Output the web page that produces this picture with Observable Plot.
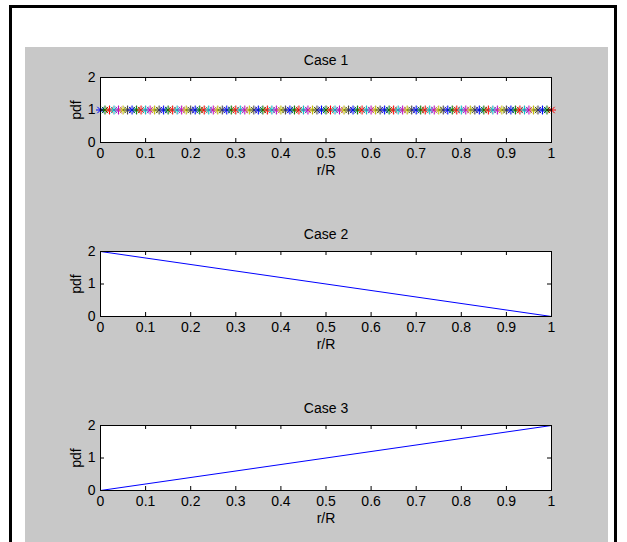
<!DOCTYPE html>
<html>
<head>
<meta charset="utf-8">
<script src="https://cdn.jsdelivr.net/npm/d3@7"></script>
<script src="https://cdn.jsdelivr.net/npm/@observablehq/plot@0.6"></script>
<style>
  html, body { margin: 0; padding: 0; background: #ffffff; }
  #page { position: relative; width: 627px; height: 542px; overflow: hidden; background: #ffffff; }
  #gray { position: absolute; left: 25px; top: 47px; width: 583px; height: 495px; background: #c8c8c8; }
  .bl { position: absolute; background: #000000; }
  .sub { position: absolute; left: 0; }
</style>
</head>
<body>
<div id="page">
  <div class="bl" style="left:9px; top:5px; width:608px; height:3px;"></div>
  <div class="bl" style="left:9px; top:5px; width:3px; height:537px;"></div>
  <div class="bl" style="left:614px; top:5px; width:3px; height:537px;"></div>
  <div id="gray"></div>
</div>
<script>
// ---- data ----
const titles = ["Case 1", "Case 2", "Case 3"];
const xLabel = "r/R";
const yLabel = "pdf";
const xTicks = [0, 0.1, 0.2, 0.3, 0.4, 0.5, 0.6, 0.7, 0.8, 0.9, 1];
const yTicks = [0, 1, 2];

// Case 1: uniform pdf, one '*' marker per sample
const r1 = [0, 0.01, 0.02, 0.03, 0.04, 0.05, 0.06, 0.07, 0.08, 0.09,
  0.10, 0.11, 0.12, 0.13, 0.14, 0.15, 0.16, 0.17, 0.18, 0.19,
  0.20, 0.21, 0.22, 0.23, 0.24, 0.25, 0.26, 0.27, 0.28, 0.29,
  0.30, 0.31, 0.32, 0.33, 0.34, 0.35, 0.36, 0.37, 0.38, 0.39,
  0.40, 0.41, 0.42, 0.43, 0.44, 0.45, 0.46, 0.47, 0.48, 0.49,
  0.50, 0.51, 0.52, 0.53, 0.54, 0.55, 0.56, 0.57, 0.58, 0.59,
  0.60, 0.61, 0.62, 0.63, 0.64, 0.65, 0.66, 0.67, 0.68, 0.69,
  0.70, 0.71, 0.72, 0.73, 0.74, 0.75, 0.76, 0.77, 0.78, 0.79,
  0.80, 0.81, 0.82, 0.83, 0.84, 0.85, 0.86, 0.87, 0.88, 0.89,
  0.90, 0.91, 0.92, 0.93, 0.94, 0.95, 0.96, 0.97, 0.98, 0.99, 1.00];
const pdf1 = [1, 1, 1, 1, 1, 1, 1, 1, 1, 1,
  1, 1, 1, 1, 1, 1, 1, 1, 1, 1,
  1, 1, 1, 1, 1, 1, 1, 1, 1, 1,
  1, 1, 1, 1, 1, 1, 1, 1, 1, 1,
  1, 1, 1, 1, 1, 1, 1, 1, 1, 1,
  1, 1, 1, 1, 1, 1, 1, 1, 1, 1,
  1, 1, 1, 1, 1, 1, 1, 1, 1, 1,
  1, 1, 1, 1, 1, 1, 1, 1, 1, 1,
  1, 1, 1, 1, 1, 1, 1, 1, 1, 1,
  1, 1, 1, 1, 1, 1, 1, 1, 1, 1, 1];

// Case 2 and Case 3: linear pdfs
const r23 = [0, 1];
const pdf2 = [2, 0];
const pdf3 = [0, 2];

// MATLAB default colour order
const colorOrder = ["#0000ff", "#008000", "#ff0000", "#00bfbf", "#bf00bf", "#bfbf00", "#404040"];

// ---- layout ----
const W = 627;
const frameLeft = 100, frameRight = 551;
const frameTops = [77, 251, 425];
const frameH = 65;
const mTop = 35, mBottom = 38;
const fontFamily = "'Liberation Sans', Arial, Helvetica, sans-serif";

const matlabStar = {
  draw(ctx, size) {
    const r = Math.sqrt(size / Math.PI);
    const d = r * Math.SQRT1_2;
    ctx.moveTo(-r, 0); ctx.lineTo(r, 0);
    ctx.moveTo(0, -r); ctx.lineTo(0, r);
    ctx.moveTo(-d, -d); ctx.lineTo(d, d);
    ctx.moveTo(-d, d); ctx.lineTo(d, -d);
  }
};

function subplot(k, dataMarks) {
  const fw = frameRight - frameLeft;
  return Plot.plot({
    width: W,
    height: mTop + frameH + mBottom,
    marginLeft: frameLeft,
    marginRight: W - frameRight,
    marginTop: mTop,
    marginBottom: mBottom,
    style: { background: "transparent", color: "#000000", fontFamily, fontSize: "14px", overflow: "visible" },
    x: { domain: [0, 1] },
    y: { domain: [0, 2] },
    color: { type: "identity" },
    marks: [
      Plot.frame({ fill: "#ffffff", stroke: null }),
      ...dataMarks,
      // inward ticks on all four sides
      Plot.tickX(xTicks, { x: d => d, insetTop: frameH - 4, stroke: "#000000" }),
      Plot.tickX(xTicks, { x: d => d, insetBottom: frameH - 4, stroke: "#000000" }),
      Plot.tickY(yTicks, { y: d => d, insetRight: fw - 4, stroke: "#000000" }),
      Plot.tickY(yTicks, { y: d => d, insetLeft: fw - 4, stroke: "#000000" }),
      Plot.axisX(xTicks, { tickSize: 0, tickPadding: 6, label: null, tickFormat: d => String(d) }),
      Plot.axisY(yTicks, { tickSize: 0, tickPadding: 5, label: null, tickFormat: d => String(d) }),
      Plot.frame({ stroke: "#000000", fill: null }),
      Plot.text([titles[k]], { text: d => d, frameAnchor: "top", lineAnchor: "middle", dy: -17, fill: "#000000" }),
      Plot.text([xLabel], { text: d => d, frameAnchor: "bottom", lineAnchor: "middle", dy: 28, fill: "#000000" }),
      Plot.text([yLabel], { text: d => d, frameAnchor: "left", textAnchor: "middle", lineAnchor: "middle", dx: -24, rotate: -90, fill: "#000000" })
    ]
  });
}

const plots = [
  subplot(0, [
    Plot.dot(r1, {
      x: d => d,
      y: (d, i) => pdf1[i],
      symbol: matlabStar,
      r: 4.5,
      fill: "none",
      stroke: (d, i) => colorOrder[i % colorOrder.length],
      strokeWidth: 1
    })
  ]),
  subplot(1, [
    Plot.line(r23, { x: d => d, y: (d, i) => pdf2[i], stroke: "#0000ff", strokeWidth: 1 })
  ]),
  subplot(2, [
    Plot.line(r23, { x: d => d, y: (d, i) => pdf3[i], stroke: "#0000ff", strokeWidth: 1 })
  ])
];

const page = document.getElementById("page");
plots.forEach((svg, k) => {
  const wrap = document.createElement("div");
  wrap.className = "sub";
  wrap.style.top = (frameTops[k] - mTop) + "px";
  wrap.appendChild(svg);
  page.appendChild(wrap);
});
</script>
</body>
</html>
